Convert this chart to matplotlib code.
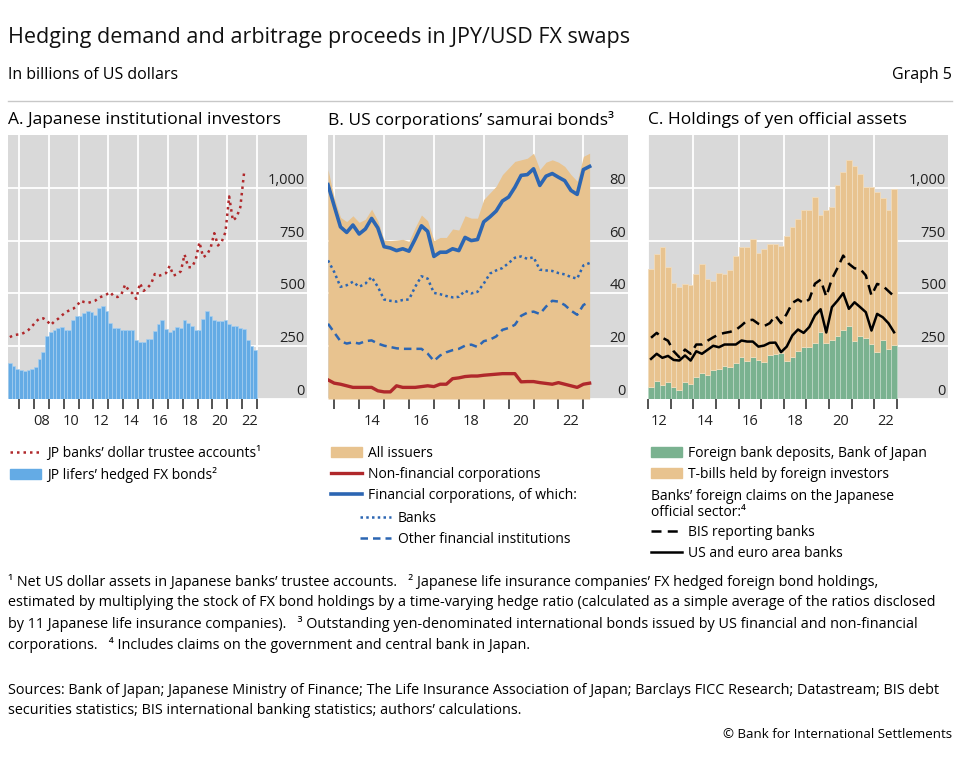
import numpy as np
import matplotlib
matplotlib.use("Agg")
import matplotlib.pyplot as plt
from matplotlib.lines import Line2D
from matplotlib.patches import Patch

plt.rcParams['font.family'] = ['Open Sans', 'DejaVu Sans']

# ---- Panel A: Japanese institutional investors (quarterly, 2006Q2-2022Q4)
a_start = 2006.25
lifers_hedged = [171, 154, 144, 135, 132, 138, 144, 151, 190, 222, 297, 316, 328, 337, 340, 329,
                 328, 375, 391, 394, 406, 419, 411, 399, 432, 438, 419, 362, 337, 337, 328, 328,
                 328, 328, 277, 269, 269, 285, 285, 324, 356, 372, 332, 316, 329, 340, 335, 375,
                 359, 348, 329, 328, 380, 419, 391, 375, 368, 367, 372, 356, 348, 348, 337, 332,
                 280, 249, 233]
trustee = [293, 302, 305, 307, 315, 327, 345, 366, 382, 382, 370, 350, 368, 380, 396, 410,
           420, 427, 440, 465, 459, 455, 460, 466, 480, 487, 495, 506, 485, 483, 495, 541,
           514, 500, 474, 548, 512, 526, 545, 592, 583, 588, 596, 630, 585, 590, 605, 684,
           624, 624, 660, 742, 672, 682, 715, 785, 727, 745, 790, 959, 845, 861, 908, 1070]
a_xlabels = ['08', '10', '12', '14', '16', '18', '20', '22']

# ---- Panel B: US corporations' samurai bonds (quarterly, 2012Q4-2023Q1)
b_start = 2012.75
all_issuers = [86.9, 76.2, 68.8, 67.2, 69.4, 66.9, 68.1, 71.9, 67.5, 60.2, 60.0, 60.2, 60.5, 59.7,
               65.0, 69.7, 67.5, 60.0, 61.2, 61.2, 64.4, 64.0, 69.4, 68.5, 68.5, 75.6, 78.1, 80.6,
               85.0, 87.5, 90.0, 90.6, 91.2, 93.1, 86.9, 89.7, 90.6, 89.7, 88.1, 85.0, 82.5, 91.9,
               93.1]
financial = [81.2, 73.1, 65.2, 63.1, 65.9, 62.5, 64.4, 68.4, 64.8, 57.7, 57.2, 56.2, 56.9, 56.0,
             60.6, 65.6, 63.5, 54.0, 55.6, 55.6, 56.9, 56.2, 61.2, 60.0, 60.4, 67.1, 69.0, 71.2,
             75.0, 76.5, 80.2, 84.7, 85.0, 87.2, 80.9, 84.4, 85.4, 84.0, 82.7, 79.0, 77.5, 86.9,
             88.1]
banks = [52.5, 48.1, 42.5, 43.1, 44.4, 42.5, 43.7, 46.2, 42.5, 37.7, 37.2, 36.9, 37.5, 37.7,
         42.5, 46.5, 45.6, 40.2, 39.7, 39.0, 38.5, 38.7, 41.0, 40.0, 40.6, 43.7, 47.5, 48.7,
         49.6, 51.5, 53.5, 54.0, 53.1, 53.7, 49.0, 48.7, 48.5, 47.7, 47.2, 46.2, 45.6, 50.6,
         51.5]
other_fin = [28.5, 25.2, 21.9, 21.0, 21.5, 21.0, 21.9, 22.2, 21.0, 20.2, 19.7, 19.2, 19.0, 19.0,
             19.0, 19.0, 17.2, 14.4, 16.5, 17.7, 18.5, 19.0, 20.2, 20.6, 19.7, 21.9, 22.5, 23.7,
             26.2, 26.9, 28.1, 31.5, 32.7, 33.1, 32.2, 35.0, 37.2, 36.9, 35.6, 33.5, 31.9, 35.6,
             36.9]
non_financial = [7.25, 6.0, 5.6, 5.0, 4.4, 4.4, 4.4, 4.4, 3.1, 2.7, 2.7, 5.0, 4.4, 4.4, 4.4, 4.7,
                 5.0, 4.7, 5.6, 5.6, 7.7, 8.0, 8.5, 8.7, 8.7, 9.0, 9.2, 9.4, 9.6, 9.6, 9.6, 6.5,
                 6.6, 6.6, 6.2, 5.9, 5.6, 6.2, 5.6, 5.0, 4.4, 5.6, 6.0]
b_xlabels = ['14', '16', '18', '20', '22']

# ---- Panel C: Holdings of yen official assets (quarterly, 2012Q1-2022Q4)
c_start = 2012.0
boj_deposits = [56, 84, 64, 80, 59, 43, 80, 69, 103, 122, 116, 138, 143, 154, 150, 169,
                198, 182, 198, 185, 174, 206, 212, 216, 182, 201, 226, 248, 245, 266, 317, 264,
                280, 296, 328, 348, 274, 298, 289, 262, 222, 277, 236, 255]
tbills = [560, 603, 658, 547, 490, 487, 465, 473, 487, 515, 453, 423, 454, 439, 461, 506,
          524, 540, 559, 506, 537, 529, 524, 509, 592, 615, 627, 647, 650, 689, 556, 631,
          631, 718, 749, 782, 828, 768, 717, 741, 757, 673, 659, 740]
bis_banks = [290, 313, 290, 276, 226, 198, 234, 214, 258, 258, 276, 292, 306, 313, 318, 327,
             348, 372, 375, 356, 345, 359, 395, 359, 403, 455, 471, 454, 472, 546, 565, 485,
             569, 621, 679, 640, 619, 616, 585, 490, 545, 536, 511, 486]
us_euro_banks = [190, 214, 195, 204, 185, 182, 206, 182, 226, 214, 233, 252, 245, 258, 258, 258,
                 277, 272, 272, 248, 253, 266, 267, 222, 248, 301, 329, 313, 341, 396, 425, 315,
                 435, 466, 501, 427, 458, 435, 411, 324, 403, 387, 359, 316]
c_xlabels = ['12', '14', '16', '18', '20', '22']

BG = '#d9d9d9'
RED = '#b0282b'
LBLUE = '#64abe5'
BLUE = '#2c66b3'
TAN = '#e8c38f'
GREEN = '#7ab290'

W, H = 960, 760
fig = plt.figure(figsize=(W / 100, H / 100), dpi=100)


def fx(px):
    return px / W


def fy(py):
    return 1 - py / H


def make_axes(left, right, top=135, bottom=399):
    ax = fig.add_axes([fx(left), fy(bottom), (right - left) / W, (bottom - top) / H])
    ax.set_facecolor(BG)
    for s in ax.spines.values():
        s.set_visible(False)
    return ax


def style_axes(ax, ylim, yticks, ylabels, years, label_years, labels):
    ax.set_ylim(*ylim)
    ax.set_yticks(yticks, labels=ylabels)
    ax.yaxis.tick_right()
    ax.tick_params(axis='y', length=0, pad=-1.5, labelsize=10.5, colors='#222222')
    for t in ax.yaxis.get_major_ticks():
        t.label2.set_horizontalalignment('right')
        t.label2.set_verticalalignment('bottom')
    ax.yaxis.grid(True, color='white', lw=1.3)
    for yr in years[::2]:
        ax.axvline(yr, color='white', lw=1.3, zorder=0.5)
    ax.set_axisbelow(True)
    ax.set_xticks(years, labels=[''] * len(years))
    ax.set_xticks(label_years, labels=labels, minor=True)
    ax.tick_params(axis='x', which='major', direction='out', length=7, width=1.3,
                   color='#444444')
    ax.tick_params(axis='x', which='minor', length=0, pad=11, labelsize=10.5,
                   colors='#222222')


# Panel A
axA = make_axes(8, 307)
xa = a_start + 0.25 * np.arange(len(lifers_hedged)) + 0.125
axA.bar(xa, lifers_hedged, width=0.25, color=LBLUE, edgecolor='#a6cff0', lw=0.5, zorder=2)
xt = a_start + 0.25 * np.arange(len(trustee)) + 0.125
axA.plot(xt, trustee, color=RED, ls=(0, (1, 1.6)), lw=1.8, zorder=3)
axA.set_xlim(2006.25, 2026.36)
style_axes(axA, (0, 1250), [0, 250, 500, 750, 1000], ['0', '250', '500', '750', '1,000'],
           list(range(2007, 2024)), [2008.5 + 2 * i for i in range(len(a_xlabels))], a_xlabels)

# Panel B
axB = make_axes(328, 628)
xb = b_start + 0.25 * np.arange(len(all_issuers))
axB.fill_between(xb, all_issuers, color=TAN, lw=0, zorder=2)
axB.plot(xb, non_financial, color=RED, lw=2.4, zorder=3)
axB.plot(xb, financial, color=BLUE, lw=2.6, zorder=3)
axB.plot(xb, banks, color=BLUE, ls=(0, (1, 1.3)), lw=1.8, zorder=3)
axB.plot(xb, other_fin, color=BLUE, ls=(0, (3, 2)), lw=1.8, zorder=3)
axB.set_xlim(2012.75, 2024.79)
style_axes(axB, (0, 100), [0, 20, 40, 60, 80], ['0', '20', '40', '60', '80'],
           list(range(2013, 2024)), [2014.5 + 2 * i for i in range(len(b_xlabels))], b_xlabels)

# Panel C
axC = make_axes(648, 948)
xc = c_start + 0.25 * np.arange(len(boj_deposits)) + 0.125
axC.bar(xc, boj_deposits, width=0.25, color=GREEN, edgecolor='#b9d6c4', lw=0.6, zorder=2)
axC.bar(xc, tbills, bottom=boj_deposits, width=0.25, color=TAN, edgecolor='#f1dcbc', lw=0.6,
        zorder=2)
axC.plot(xc, bis_banks, color='black', ls=(0, (4, 2.5)), lw=1.8, zorder=3)
axC.plot(xc, us_euro_banks, color='black', lw=1.8, zorder=3)
axC.set_xlim(2011.99, 2025.26)
style_axes(axC, (0, 1250), [0, 250, 500, 750, 1000], ['0', '250', '500', '750', '1,000'],
           list(range(2012, 2024)), [2012.5 + 2 * i for i in range(len(c_xlabels))], c_xlabels)

# Header
fig.text(fx(8), fy(38), 'Hedging demand and arbitrage proceeds in JPY/USD FX swaps',
         fontsize=15.5, va='center', color='#111111')
fig.text(fx(8), fy(75), 'In billions of US dollars', fontsize=11.5, va='center')
fig.text(fx(952), fy(75), 'Graph 5', fontsize=11.5, va='center', ha='right')
fig.add_artist(Line2D([fx(8), fx(952)], [fy(101), fy(101)], color='#c8c8c8', lw=1))

fig.text(fx(8), fy(120), 'A. Japanese institutional investors', fontsize=12.5, va='center')
fig.text(fx(328), fy(120), 'B. US corporations’ samurai bonds³', fontsize=12.5, va='center')
fig.text(fx(648), fy(120), 'C. Holdings of yen official assets', fontsize=12.5, va='center')

leg_kw = dict(loc='upper left', frameon=False, fontsize=10, handlelength=2.2,
              handletextpad=0.5, labelspacing=0.43, borderpad=0, borderaxespad=0,
              bbox_transform=fig.transFigure)

fig.legend([Line2D([], [], color=RED, ls=(0, (1, 1.6)), lw=1.8),
            Patch(color=LBLUE)],
           ['JP banks’ dollar trustee accounts¹', 'JP lifers’ hedged FX bonds²'],
           bbox_to_anchor=(fx(10), fy(446)), **leg_kw)

fig.legend([Patch(color=TAN), Line2D([], [], color=RED, lw=2.4),
            Line2D([], [], color=BLUE, lw=2.6)],
           ['All issuers', 'Non-financial corporations', 'Financial corporations, of which:'],
           bbox_to_anchor=(fx(331), fy(446)), **leg_kw)
fig.legend([Line2D([], [], color=BLUE, ls=(0, (1, 1.3)), lw=1.8),
            Line2D([], [], color=BLUE, ls=(0, (3, 2)), lw=1.8)],
           ['Banks', 'Other financial institutions'],
           bbox_to_anchor=(fx(360), fy(511)), **leg_kw)

fig.legend([Patch(color=GREEN), Patch(color=TAN)],
           ['Foreign bank deposits, Bank of Japan', 'T-bills held by foreign investors'],
           bbox_to_anchor=(fx(651), fy(446)), **leg_kw)
fig.text(fx(651), fy(496), 'Banks’ foreign claims on the Japanese', fontsize=10, va='center')
fig.text(fx(651), fy(513), 'official sector:⁴', fontsize=10, va='center')
fig.legend([Line2D([], [], color='black', ls=(0, (4, 2.5)), lw=1.8),
            Line2D([], [], color='black', lw=1.8)],
           ['BIS reporting banks', 'US and euro area banks'],
           bbox_to_anchor=(fx(651), fy(525)), **leg_kw)

# Footnotes
notes = [
    '¹ Net US dollar assets in Japanese banks’ trustee accounts.   ² Japanese life insurance '
    'companies’ FX hedged foreign bond holdings,',
    'estimated by multiplying the stock of FX bond holdings by a time-varying hedge ratio '
    '(calculated as a simple average of the ratios disclosed',
    'by 11 Japanese life insurance companies).   ³ Outstanding yen-denominated international '
    'bonds issued by US financial and non-financial',
    'corporations.   ⁴ Includes claims on the government and central bank in Japan.',
]
for i, line in enumerate(notes):
    fig.text(fx(8), fy(582 + 21 * i), line, fontsize=10.4, va='center')

sources = [
    'Sources: Bank of Japan; Japanese Ministry of Finance; The Life Insurance Association of '
    'Japan; Barclays FICC Research; Datastream; BIS debt',
    'securities statistics; BIS international banking statistics; authors’ calculations.',
]
for i, line in enumerate(sources):
    fig.text(fx(8), fy(691 + 20 * i), line, fontsize=10.4, va='center')

fig.text(fx(952), fy(735), '© Bank for International Settlements', fontsize=9.5, va='center',
         ha='right')

fig.savefig('out.png', dpi=100)
